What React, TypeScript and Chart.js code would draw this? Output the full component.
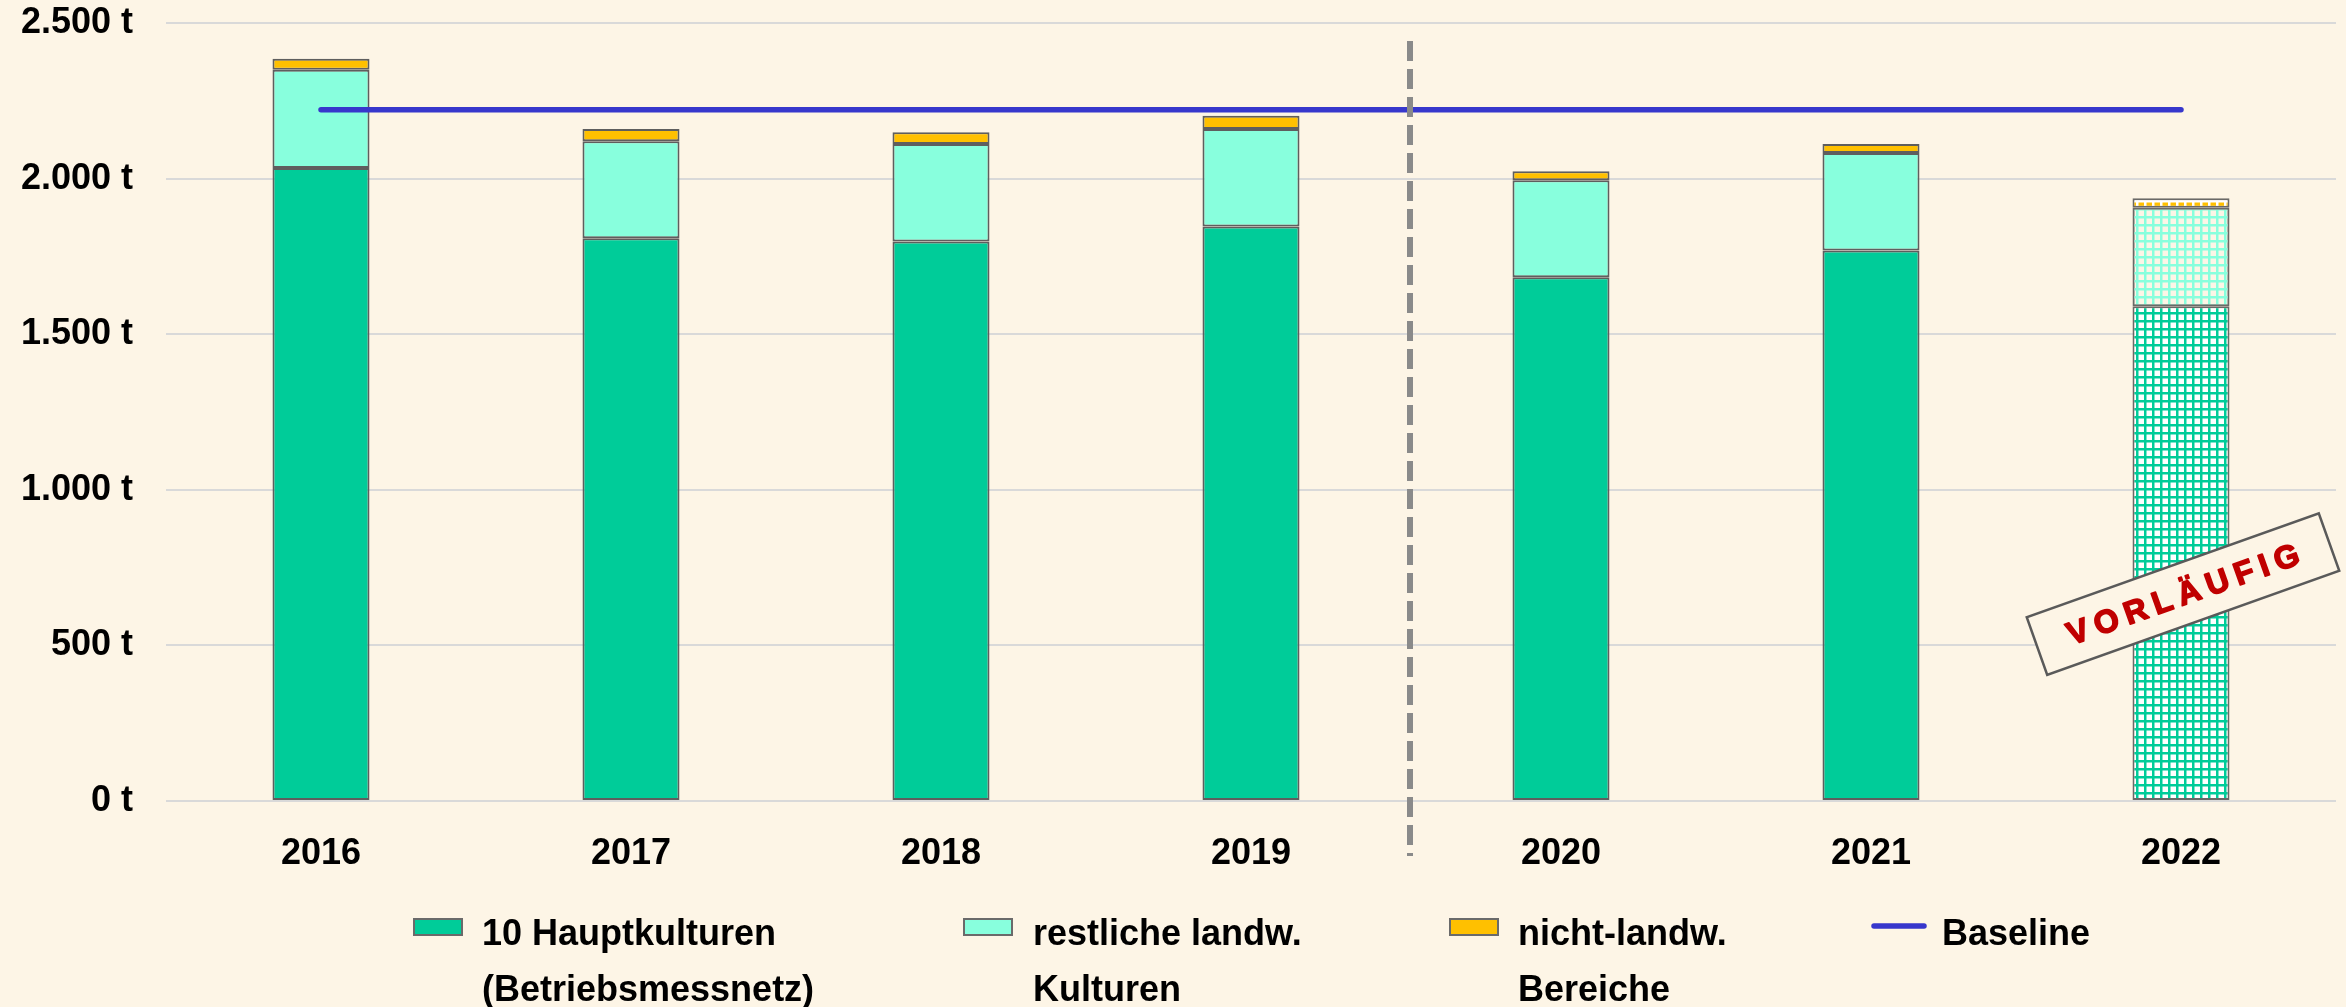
import React, { useEffect, useRef } from "react";
import { Chart, registerables } from "chart.js";

Chart.register(...registerables);

// ---- data ----
const YEARS = ["2016", "2017", "2018", "2019", "2020", "2021", "2022"];
const HAUPTKULTUREN = [2034, 1808, 1798, 1846, 1683, 1769, 1590];
const RESTLICHE = [316, 312, 313, 313, 312, 313, 316];
const NICHT_LANDW = [35, 39, 38, 43, 29, 29, 31];
const BASELINE = [2221, 2221, 2221, 2221, 2221, 2221, 2221];
const Y_MIN = 0;
const Y_MAX = 2500;
const Y_STEP = 500;
const PRELIM_INDEX = 6; // 2022 is preliminary
const DIVIDER_AFTER_INDEX = 3; // dashed line between 2019 and 2020
const STAMP_VALUE = 665;
const STAMP_TEXT = "VORLÄUFIG";

const LEGEND_ITEMS = [
  { kind: "box", color: "#00CC99", lines: ["10 Hauptkulturen", "(Betriebsmessnetz)"] },
  { kind: "box", color: "#88FFDD", lines: ["restliche landw.", "Kulturen"] },
  { kind: "box", color: "#FFC000", lines: ["nicht-landw.", "Bereiche"] },
  { kind: "line", color: "#3737CC", lines: ["Baseline"] },
];

// ---- styles ----
const BG = "#FDF5E6";
const GREEN = "#00CC99";
const CYAN = "#88FFDD";
const ORANGE = "#FFC000";
const BORDER = "#5E5E5E";
const BLUE = "#3737CC";
const FONT = "'Liberation Sans', Arial, sans-serif";
const W = 2346;
const H = 1007;

function makePattern(bg: string | null, line: string): CanvasPattern | string {
  const c = document.createElement("canvas");
  c.width = 8;
  c.height = 8;
  const g = c.getContext("2d")!;
  if (bg) {
    g.fillStyle = bg;
    g.fillRect(0, 0, 8, 8);
  }
  g.fillStyle = line;
  g.fillRect(0, 0, 2.5, 8);
  g.fillRect(0, 0, 8, 2.5);
  const p = g.createPattern(c, "repeat");
  return p || line;
}

function fmt(v: number): string {
  return String(v).replace(/\B(?=(\d{3})+(?!\d))/g, ".") + " t";
}

const overlayPlugin = {
  id: "overlay",
  afterDatasetsDraw(chart: any) {
    const { ctx, chartArea, scales } = chart;
    const xs = scales.x;
    const ys = scales.y;
    // dashed divider
    const xp =
      (xs.getPixelForValue(DIVIDER_AFTER_INDEX) + xs.getPixelForValue(DIVIDER_AFTER_INDEX + 1)) / 2 + 4;
    ctx.save();
    ctx.strokeStyle = "#8A8A8A";
    ctx.lineWidth = 6;
    ctx.setLineDash([20, 8]);
    ctx.beginPath();
    ctx.moveTo(xp, chartArea.top + 18);
    ctx.lineTo(xp, chartArea.bottom + 55);
    ctx.stroke();
    ctx.restore();

    // stamp
    const cx = xs.getPixelForValue(PRELIM_INDEX) + 2;
    const cy = ys.getPixelForValue(STAMP_VALUE);
    ctx.save();
    ctx.translate(cx, cy);
    ctx.rotate((-19.6 * Math.PI) / 180);
    ctx.fillStyle = BG;
    ctx.fillRect(-155, -30.5, 310, 61);
    ctx.strokeStyle = "#5A5A5A";
    ctx.lineWidth = 2.5;
    ctx.strokeRect(-155, -30.5, 310, 61);
    ctx.fillStyle = "#C00000";
    ctx.strokeStyle = "#C00000";
    ctx.lineWidth = 1.6;
    ctx.lineJoin = "round";
    ctx.font = `bold 32px ${FONT}`;
    (ctx as any).letterSpacing = "7px";
    ctx.textAlign = "center";
    ctx.textBaseline = "middle";
    ctx.fillText(STAMP_TEXT, 3.5, 2);
    ctx.strokeText(STAMP_TEXT, 3.5, 2);
    ctx.restore();
  },
  afterDraw(chart: any) {
    const { ctx } = chart;
    const boxX = [413, 963, 1449, 1871];
    const textX = [482, 1033, 1518, 1942];
    ctx.save();
    ctx.font = `bold 36px ${FONT}`;
    ctx.fillStyle = "#000";
    ctx.textAlign = "left";
    ctx.textBaseline = "alphabetic";
    LEGEND_ITEMS.forEach((it, i) => {
      if (it.kind === "box") {
        ctx.fillStyle = it.color;
        ctx.fillRect(boxX[i], 918, 50, 18);
        ctx.strokeStyle = "#6A6A6A";
        ctx.lineWidth = 2;
        ctx.strokeRect(boxX[i] + 1, 919, 48, 16);
      } else {
        ctx.strokeStyle = it.color;
        ctx.lineWidth = 5.5;
        ctx.lineCap = "round";
        ctx.beginPath();
        ctx.moveTo(boxX[i] + 3, 926);
        ctx.lineTo(boxX[i] + 53, 926);
        ctx.stroke();
      }
      ctx.fillStyle = "#000";
      it.lines.forEach((t, j) => {
        ctx.fillText(t, textX[i], 945 + j * 56);
      });
    });
    ctx.restore();
  },
};

export default function App() {
  const ref = useRef<HTMLCanvasElement | null>(null);

  useEffect(() => {
    document.body.style.margin = "0";
    document.body.style.background = BG;
    const canvas = ref.current!;
    const greenPat = makePattern("#FFFFFF", GREEN);
    const cyanPat = makePattern(null, CYAN);
    const orangePat = makePattern(ORANGE, "#FFFFFF");

    const bg = (solid: string, pat: any) => (c: any) => (c.dataIndex === PRELIM_INDEX ? pat : solid);

    const barCommon = {
      type: "bar" as const,
      stack: "bars",
      borderColor: (c: any) => (c.dataIndex === PRELIM_INDEX ? "rgba(80,80,80,0.85)" : BORDER),
      borderWidth: 2,
      borderSkipped: false as const,
      barPercentage: 0.313,
      categoryPercentage: 1,
      order: 1,
    };

    const chart = new Chart(canvas, {
      type: "bar",
      data: {
        labels: YEARS,
        datasets: [
          { ...barCommon, label: "10 Hauptkulturen (Betriebsmessnetz)", data: HAUPTKULTUREN, backgroundColor: bg(GREEN, greenPat) },
          { ...barCommon, label: "restliche landw. Kulturen", data: RESTLICHE, backgroundColor: bg(CYAN, cyanPat) },
          { ...barCommon, label: "nicht-landw. Bereiche", data: NICHT_LANDW, backgroundColor: bg(ORANGE, orangePat) },
          {
            type: "line" as const,
            label: "Baseline",
            stack: "baseline",
            data: BASELINE,
            borderColor: BLUE,
            borderWidth: 5.5,
            borderCapStyle: "round",
            pointRadius: 0,
            pointHoverRadius: 0,
            fill: false,
            order: 0,
          } as any,
        ],
      },
      options: {
        responsive: false,
        animation: false,
        devicePixelRatio: 1,
        layout: { padding: { top: 23, right: 10, bottom: 126, left: 0 } },
        plugins: { legend: { display: false }, tooltip: { enabled: false } },
        scales: {
          x: {
            stacked: true,
            grid: { display: false },
            border: { display: false },
            ticks: {
              color: "#000",
              font: { family: FONT, size: 36, weight: "bold" },
              padding: 23,
              maxRotation: 0,
            },
            afterFit: (s: any) => {
              s.height = 80;
            },
          },
          y: {
            stacked: true,
            min: Y_MIN,
            max: Y_MAX,
            grid: { color: "#D9D9D9", lineWidth: 2, drawTicks: false },
            border: { display: false },
            ticks: {
              stepSize: Y_STEP,
              color: "#000",
              font: { family: FONT, size: 36, weight: "bold" },
              padding: 33,
              callback: (v: any) => fmt(Number(v)),
            },
            afterFit: (s: any) => {
              s.width = 166;
              s.paddingTop = 0;
              s.paddingBottom = 0;
            },
          },
        },
      },
      plugins: [overlayPlugin],
    });
    return () => chart.destroy();
  }, []);

  return (
    <div style={{ width: W, height: H, background: BG }}>
      <canvas ref={ref} width={W} height={H} style={{ display: "block", width: W, height: H }} />
    </div>
  );
}
